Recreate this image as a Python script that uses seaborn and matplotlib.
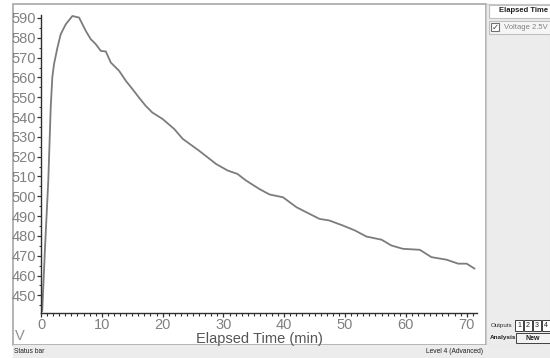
import matplotlib
matplotlib.use("Agg")
import matplotlib.pyplot as plt
from matplotlib.patches import Rectangle
from matplotlib.ticker import MultipleLocator
import seaborn as sns
import pandas as pd

# ---- data ----
elapsed_min = [0.2, 0.66, 1.2, 1.6, 1.86, 2.14, 2.7, 3.24, 4.07, 5.16, 6.26, 7.36,
               8.18, 9.0, 9.83, 10.66, 11.48, 12.85, 13.95, 15.04, 16.1, 17.2, 18.3,
               20.0, 21.9, 23.3, 26.0, 28.8, 30.7, 32.3, 33.7, 35.9, 37.6, 39.8,
               42.0, 43.6, 45.8, 47.4, 49.6, 51.6, 53.5, 56.0, 57.6, 59.5, 62.3,
               64.2, 66.7, 68.6, 70.0, 71.3]
voltage = [442, 474, 508, 545, 560, 566.7, 575, 581.8, 586.8, 591, 590.2, 583.5,
           579.3, 576.8, 573.4, 573.1, 567.5, 563.3, 558.3, 554.1, 549.9, 545.7, 542.3,
           539, 534, 529, 523, 516.3, 513, 511.3, 508, 503.7, 500.9, 499.5,
           494.5, 492, 488.6, 487.8, 485.3, 482.8, 479.7, 478.1, 475.2, 473.5, 473,
           469.3, 468, 466, 466, 463.5]
x_label = "Elapsed Time (min)"
y_unit = "V"
series_name = "Voltage 2.5V"
panel_header = "Elapsed Time"
status_left = "Status bar"
status_right = "Level 4 (Advanced)"
outputs = ["1", "2", "3", "4"]

df = pd.DataFrame({"t": elapsed_min, "v": voltage})

sns.set_theme(style="white")
plt.rcParams["font.family"] = ["Liberation Sans", "DejaVu Sans"]

W, H = 550, 358
fig = plt.figure(figsize=(W / 100, H / 100), dpi=100)
fig.patch.set_facecolor("white")


def fx(px):
    return px / W


def fy(py):
    return 1 - py / H


def rect(x0, y0, x1, y1, fc, ec="none", lw=0.8, z=-5):
    fig.patches.append(Rectangle((fx(x0), fy(y1)), fx(x1) - fx(x0), fy(y0) - fy(y1),
                                 transform=fig.transFigure, facecolor=fc, edgecolor=ec,
                                 linewidth=lw, zorder=z))


# window frame / panels
rect(13, 4, 486, 345, "white", ec="#a8a8a8", lw=1.2)
rect(486, 4, 550, 345, "#ececec", ec="#c8c8c8", lw=0.8)
rect(13, 345, 550, 358, "#ececec")
rect(489, 5, 551, 18, "white", ec="#c0c0c0", lw=0.8, z=1)
rect(489, 21, 551, 34, "#f6f6f6", ec="#c0c0c0", lw=0.8, z=1)
rect(491, 23, 499, 31, "white", ec="#707070", lw=0.8, z=2)

ax = fig.add_axes([fx(41), fy(313), fx(477) - fx(41), fy(15) - fy(313)])
ax.patch.set_alpha(0)
sns.lineplot(data=df, x="t", y="v", ax=ax, color="#7c7c7c", linewidth=1.3)

ax.set_xlim(0, 71.7)
ax.set_ylim(441.1, 591.5)
ax.xaxis.set_major_locator(MultipleLocator(10))
ax.xaxis.set_minor_locator(MultipleLocator(1))
ax.yaxis.set_major_locator(MultipleLocator(10))
ax.yaxis.set_minor_locator(MultipleLocator(5))
for s in ["top", "right"]:
    ax.spines[s].set_visible(False)
for s in ["left", "bottom"]:
    ax.spines[s].set_color("#303030")
    ax.spines[s].set_linewidth(1.0)
ax.tick_params(axis="both", which="major", direction="out", length=3.2, width=0.9,
               color="#303030", labelcolor="#808080", labelsize=10.5, pad=0.4,
               left=True, bottom=True)
ax.tick_params(axis="both", which="minor", direction="out", length=1.8, width=0.8,
               color="#303030", left=True, bottom=True)
ax.set_xlabel("")
ax.set_ylabel("")

fig.text(fx(259), fy(338.5), x_label, ha="center", va="center", fontsize=10.5, color="#555555")
fig.text(fx(15), fy(336), y_unit, ha="left", va="center", fontsize=10.5, color="#909090")

# side panel texts
fig.text(fx(548), fy(11), panel_header, ha="right", va="center", fontsize=5.5,
         fontweight="bold", color="#202020")
fig.text(fx(548), fy(27.5), series_name, ha="right", va="center", fontsize=5.5, color="#808080")
fig.text(fx(495), fy(27), "\u2713", ha="center", va="center", fontsize=6,
         color="#404040", family=["DejaVu Sans"])
fig.text(fx(491), fy(326), "Outputs", ha="left", va="center", fontsize=4.5, color="#303030")
for i, o in enumerate(outputs):
    x0 = 515 + i * 9
    rect(x0, 320, x0 + 8, 331, "white", ec="#404040", lw=0.7, z=1)
    fig.text(fx(x0 + 4), fy(325.5), o, ha="center", va="center", fontsize=5, color="#202020")
fig.text(fx(490), fy(338), "Analysis", ha="left", va="center", fontsize=4.6,
         fontweight="bold", color="#202020")
rect(516, 333, 551, 343, "#f2f2f2", ec="#404040", lw=0.7, z=1)
fig.text(fx(533), fy(338), "New", ha="center", va="center", fontsize=5,
         fontweight="bold", color="#202020")

# status bar
fig.text(fx(14), fy(351.5), status_left, ha="left", va="center", fontsize=4.8, color="#202020")
fig.text(fx(483), fy(351.5), status_right, ha="right", va="center", fontsize=4.8, color="#202020")

fig.savefig("out.png", dpi=100)
